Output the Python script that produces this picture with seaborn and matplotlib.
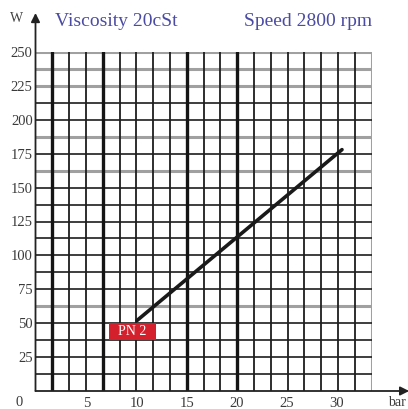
import numpy as np
import pandas as pd
import matplotlib
matplotlib.use("Agg")
import matplotlib.pyplot as plt
import seaborn as sns

# Power draw of PN 2 pump vs. pressure
pressure_bar = [10, 30.5]
power_w = [52, 178]
curve_name = "PN 2"

x_ticks = [5, 10, 15, 20, 25, 30]
y_ticks = [25, 50, 75, 100, 125, 150, 175, 200, 225, 250]
title_left = "Viscosity 20cSt"
title_right = "Speed 2800 rpm"

sns.set_style("white")
plt.rcParams['font.family'] = ['Liberation Serif', 'DejaVu Serif']

fig = plt.figure(figsize=(4.08, 4.09), dpi=100)
ax = fig.add_axes([35.5 / 408, 18 / 409, 336 / 408, 339 / 409])

xmin, xmax = -0.15, 33.45
ymin, ymax = 0, 250
ax.set_xlim(xmin, xmax)
ax.set_ylim(ymin, ymax)

# graph paper grid: 20 x 20 cells
gray_rows = [62.5, 162.5, 187.5, 225, 237.5, 250]
for yv in np.arange(ymin + 12.5, ymax + 0.1, 12.5):
    if yv in gray_rows:
        ax.axhline(yv, color='#a0a0a0', lw=2.2, zorder=1)
    else:
        ax.axhline(yv, color='#1e1e1e', lw=1.2, zorder=2)

thick_cols = [1, 4, 9, 12]
for i, xv in enumerate(np.linspace(xmin, xmax, 21)):
    if i == 0:
        continue
    if i == 20:
        ax.axvline(xv, color='#a0a0a0', lw=2.2, zorder=1)
    elif i in thick_cols:
        ax.axvline(xv, color='#151515', lw=2.4, zorder=2)
    else:
        ax.axvline(xv, color='#1e1e1e', lw=1.3, zorder=2)

df = pd.DataFrame({'bar': pressure_bar, 'W': power_w})
sns.lineplot(data=df, x='bar', y='W', ax=ax, color='#1a1a1a', lw=2.6,
             solid_capstyle='round', zorder=4)

ax.text(9.55, 44, '\u2002' + curve_name + '\u2002', color='white', fontsize=10,
        ha='center', va='center', zorder=5,
        bbox=dict(facecolor='#d41f2c', edgecolor='none', boxstyle='square,pad=0.15'))

for s in ax.spines.values():
    s.set_visible(False)

# axes with arrows
ax.annotate('', xy=(0, 1.115), xytext=(0, 0), xycoords='axes fraction',
            arrowprops=dict(arrowstyle='-|>', color='#222222', lw=1.3,
                            mutation_scale=13, shrinkA=0, shrinkB=0),
            annotation_clip=False, zorder=6)
ax.annotate('', xy=(1.112, 0), xytext=(0, 0), xycoords='axes fraction',
            arrowprops=dict(arrowstyle='-|>', color='#222222', lw=1.3,
                            mutation_scale=13, shrinkA=0, shrinkB=0),
            annotation_clip=False, zorder=6)

ax.set_xticks(x_ticks)
ax.set_xticklabels([str(v) for v in x_ticks])
ax.set_yticks(y_ticks)
ax.set_yticklabels([str(v) for v in y_ticks])
ax.tick_params(length=0, labelsize=10.5, labelcolor='#3a3a3a')
ax.tick_params(axis='y', pad=2)
ax.tick_params(axis='x', pad=4.5)
ax.set_xlabel('')
ax.set_ylabel('')

fig.text(19 / 408, 1 - 403 / 409, '0', fontsize=10.5, color='#3a3a3a', ha='center', va='center')
fig.text(17 / 408, 1 - 19 / 409, 'W', fontsize=10, color='#444444', ha='center', va='center')
fig.text(406 / 408, 1 - 403 / 409, 'bar', fontsize=10, color='#3a3a3a', ha='right', va='center')
fig.text(116 / 408, 1 - 21 / 409, title_left, fontsize=14, color='#4b4ba3', ha='center', va='center')
fig.text(308 / 408, 1 - 21 / 409, title_right, fontsize=14, color='#4b4ba3', ha='center', va='center')

fig.savefig('out.png', dpi=100)
